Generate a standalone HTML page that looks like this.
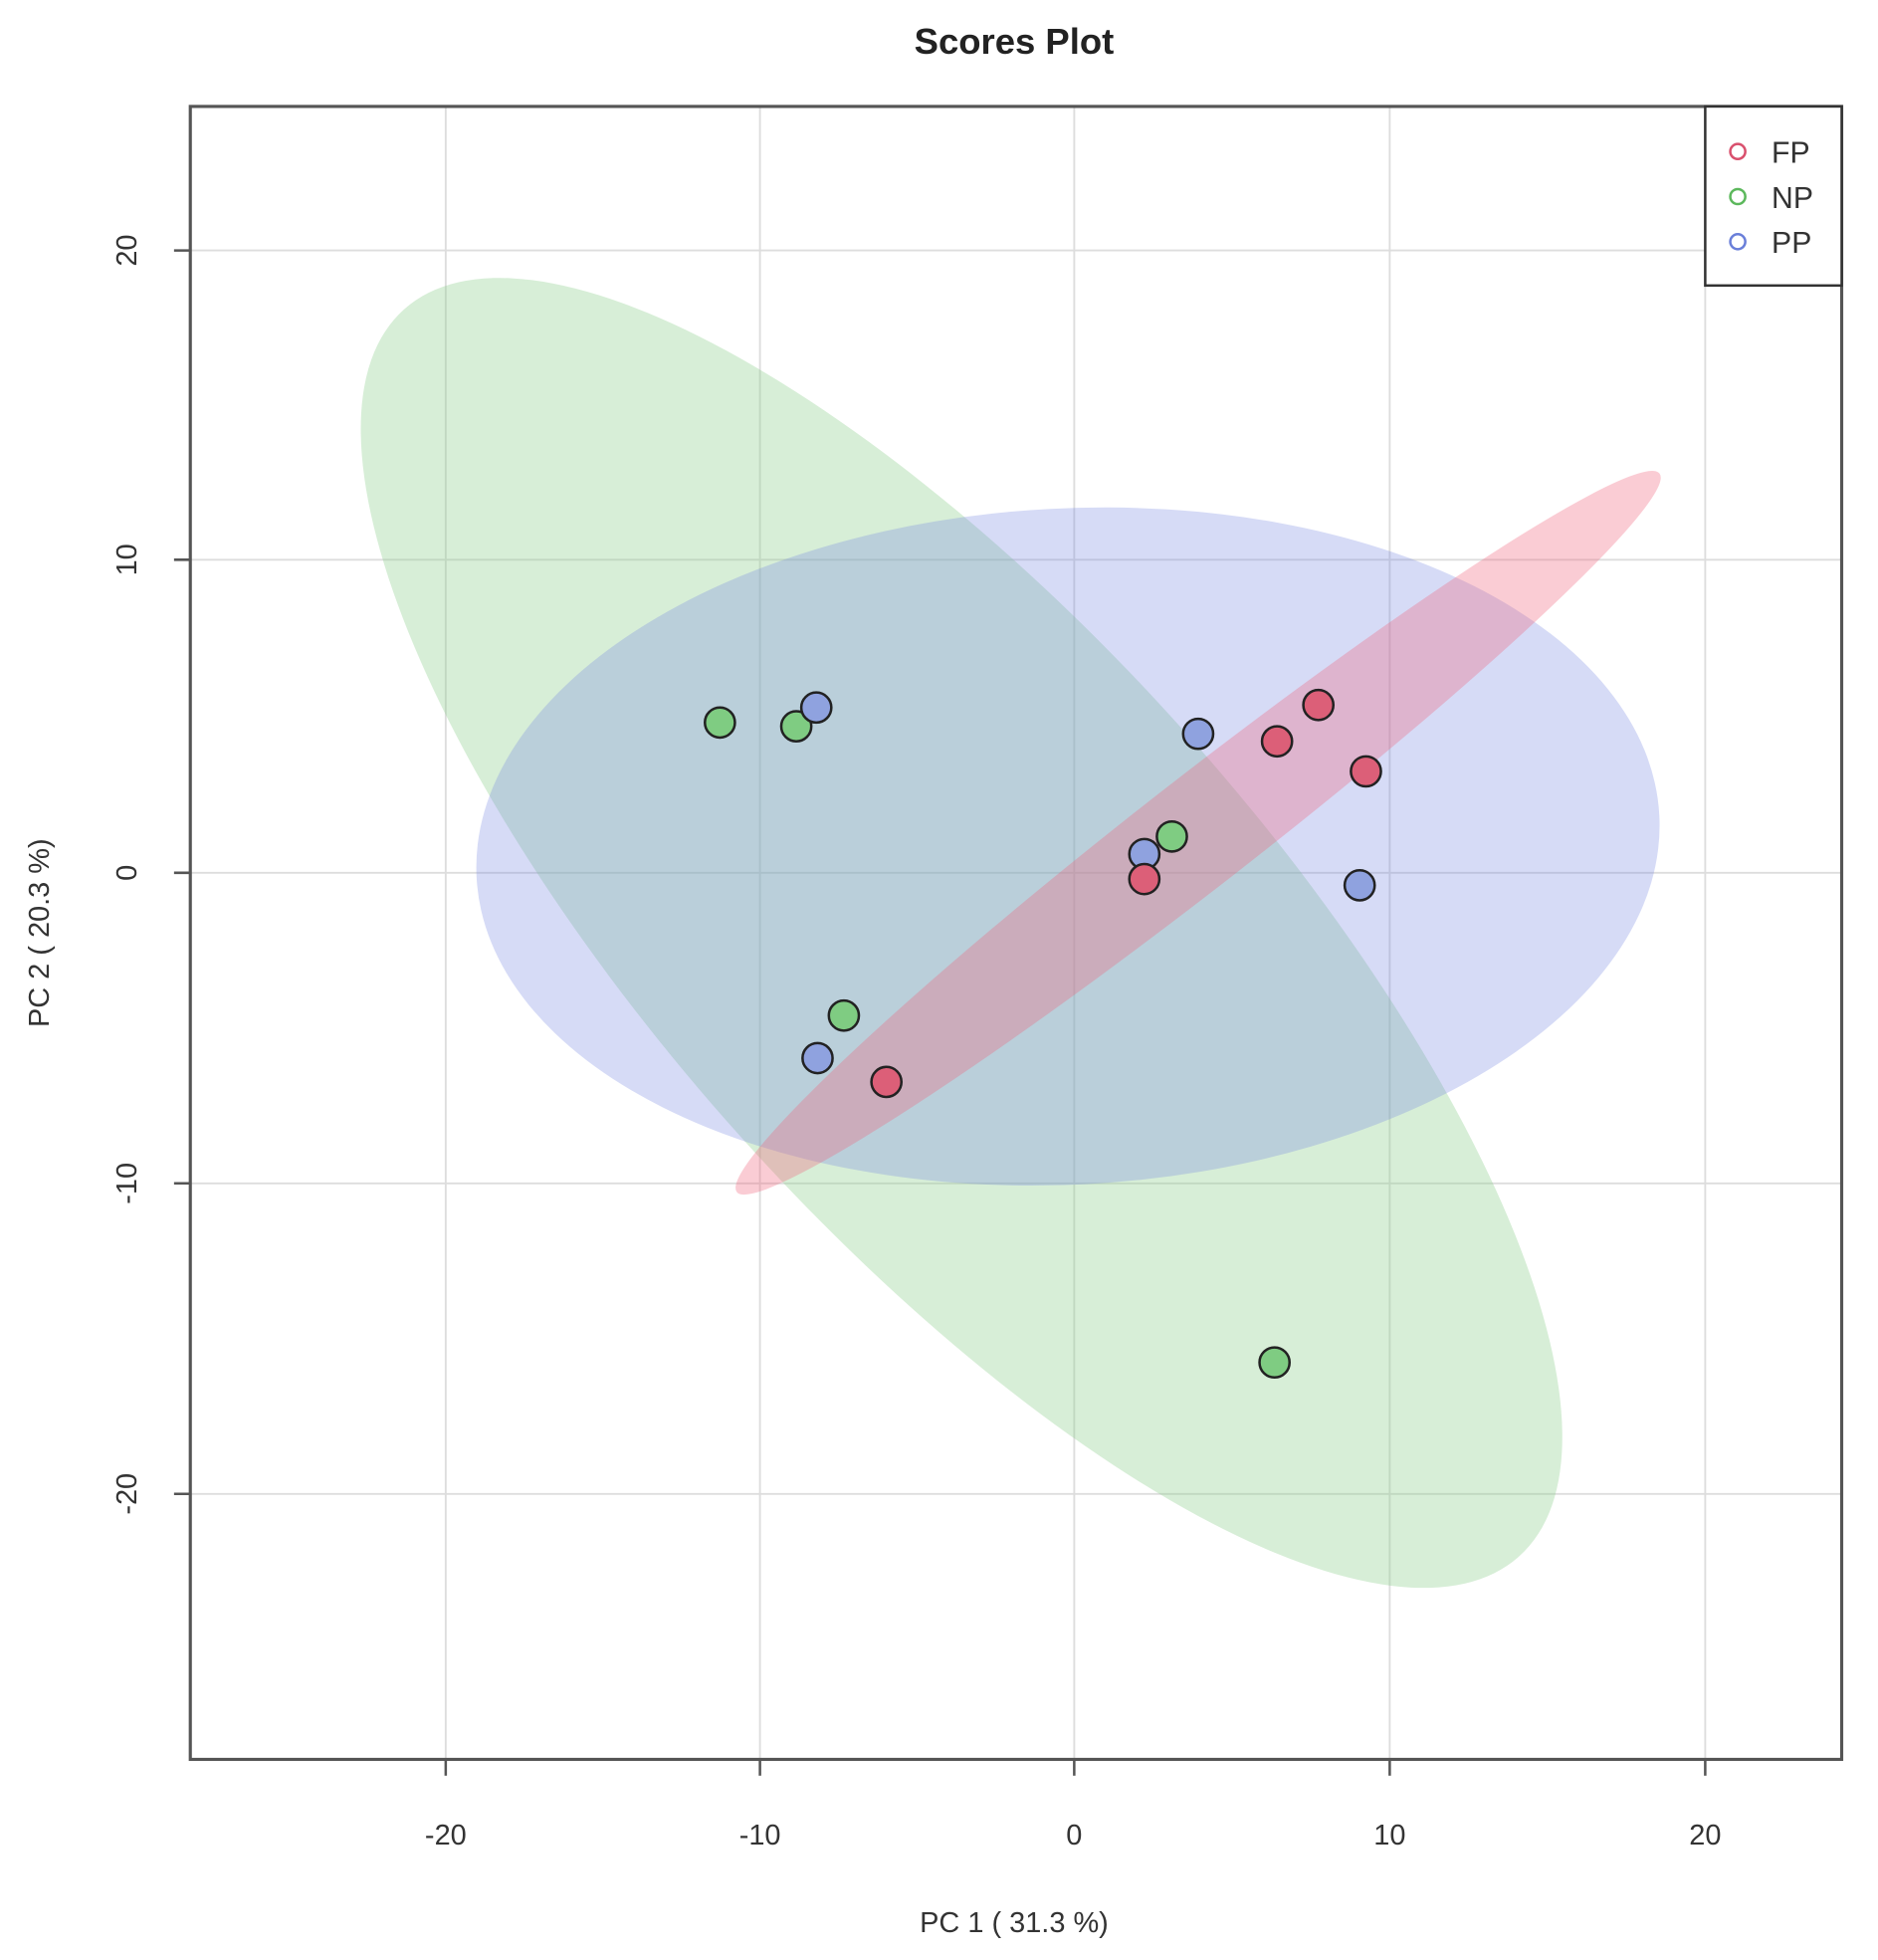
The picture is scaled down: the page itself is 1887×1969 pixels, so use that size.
<!DOCTYPE html>
<html><head><meta charset="utf-8"><style>html,body{margin:0;padding:0;background:#fff}svg{display:block}</style></head>
<body>
<svg width="1887" height="1969" viewBox="0 0 1500 1565.2" xmlns="http://www.w3.org/2000/svg" font-family="Liberation Sans, sans-serif">
<rect width="1500" height="1566" fill="#fff"/>
<text x="810" y="43" font-size="29" font-weight="bold" text-anchor="middle" fill="#222">Scores Plot</text>
<g stroke="#ddd" stroke-width="1.5">
<line x1="356" y1="85" x2="356" y2="1405"/><line x1="607" y1="85" x2="607" y2="1405"/><line x1="858" y1="85" x2="858" y2="1405"/><line x1="1110" y1="85" x2="1110" y2="1405"/><line x1="1362" y1="85" x2="1362" y2="1405"/>
<line x1="152" y1="200" x2="1471" y2="200"/><line x1="152" y1="447" x2="1471" y2="447"/><line x1="152" y1="697" x2="1471" y2="697"/><line x1="152" y1="945" x2="1471" y2="945"/><line x1="152" y1="1193" x2="1471" y2="1193"/>
</g>
<ellipse cx="768" cy="745" rx="668" ry="240" transform="rotate(48.2 768 745)" fill="rgba(140,205,140,0.35)"/>
<ellipse cx="853" cy="676" rx="473" ry="270" transform="rotate(-3 853 676)" fill="rgba(120,135,225,0.3)"/>
<ellipse cx="957" cy="665" rx="467" ry="44" transform="rotate(-37.9 957 665)" fill="rgba(240,100,125,0.33)"/>
<g stroke="#222" stroke-width="2">
<g fill="#7fcc82"><circle cx="575" cy="577" r="12"/><circle cx="636" cy="580" r="12"/><circle cx="674" cy="811" r="12"/><circle cx="936" cy="668" r="12"/><circle cx="1018" cy="1088" r="12"/></g>
<g fill="#8fa2df"><circle cx="652" cy="565" r="12"/><circle cx="957" cy="586" r="12"/><circle cx="914" cy="682" r="12"/><circle cx="1086" cy="707" r="12"/><circle cx="653" cy="845" r="12"/></g>
<g fill="#dc5f78"><circle cx="1053" cy="563" r="12"/><circle cx="1020" cy="592" r="12"/><circle cx="1091" cy="616" r="12"/><circle cx="914" cy="702" r="12"/><circle cx="708" cy="864" r="12"/></g>
</g>
<rect x="152" y="85" width="1319" height="1320" fill="none" stroke="#555" stroke-width="2.5"/>
<g stroke="#555" stroke-width="2">
<line x1="356" y1="1405" x2="356" y2="1418"/><line x1="607" y1="1405" x2="607" y2="1418"/><line x1="858" y1="1405" x2="858" y2="1418"/><line x1="1110" y1="1405" x2="1110" y2="1418"/><line x1="1362" y1="1405" x2="1362" y2="1418"/>
<line x1="139" y1="200" x2="152" y2="200"/><line x1="139" y1="447" x2="152" y2="447"/><line x1="139" y1="697" x2="152" y2="697"/><line x1="139" y1="945" x2="152" y2="945"/><line x1="139" y1="1193" x2="152" y2="1193"/>
</g>
<g font-size="23" fill="#333" text-anchor="middle">
<text x="356" y="1473">-20</text><text x="607" y="1473">-10</text><text x="858" y="1473">0</text><text x="1110" y="1473">10</text><text x="1362" y="1473">20</text>
<text transform="translate(109 200) rotate(-90)">20</text>
<text transform="translate(109 447) rotate(-90)">10</text>
<text transform="translate(109 697) rotate(-90)">0</text>
<text transform="translate(109 945) rotate(-90)">-10</text>
<text transform="translate(109 1193) rotate(-90)">-20</text>
<text x="810" y="1543">PC 1 ( 31.3 %)</text>
<text transform="translate(39 745) rotate(-90)">PC 2 ( 20.3 %)</text>
</g>
<rect x="1362" y="85" width="109" height="143" fill="#fff" stroke="#333" stroke-width="2"/>
<g fill="none" stroke-width="2"><circle cx="1388" cy="121" r="6" stroke="#d9506d"/><circle cx="1388" cy="157" r="6" stroke="#5cb85c"/><circle cx="1388" cy="193" r="6" stroke="#6a7fd9"/></g>
<g font-size="24" fill="#333"><text x="1415" y="130">FP</text><text x="1415" y="166">NP</text><text x="1415" y="202">PP</text></g>
</svg>
</body></html>
